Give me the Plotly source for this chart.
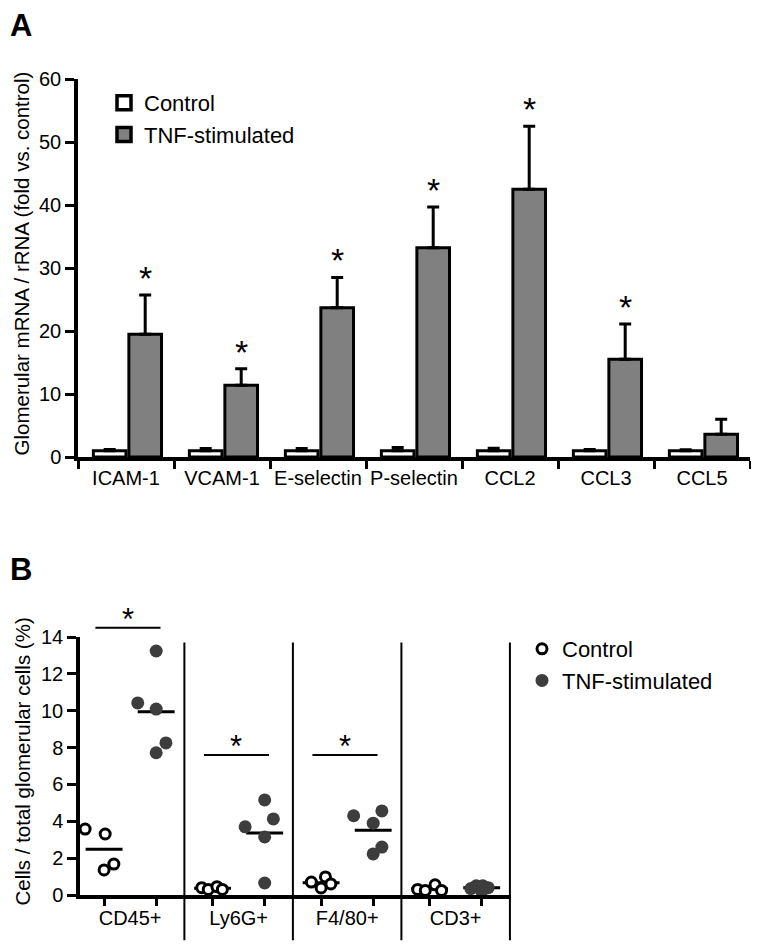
import numpy as np
import plotly.graph_objects as go

# ---------------- Panel A data ----------------
genes = ["ICAM-1", "VCAM-1", "E-selectin", "P-selectin", "CCL2", "CCL3", "CCL5"]
control_mean = [1.0, 1.0, 1.0, 1.0, 1.0, 1.0, 1.0]
control_err = [0.2, 0.35, 0.35, 0.5, 0.4, 0.2, 0.15]
tnf_mean = [19.5, 11.4, 23.7, 33.2, 42.5, 15.5, 3.6]
tnf_err = [6.2, 2.6, 4.8, 6.5, 10.0, 5.6, 2.4]
tnf_sig = [True, True, True, True, True, True, False]
yA_ticks = [0, 10, 20, 30, 40, 50, 60]

# ---------------- Panel B data ----------------
cells = ["CD45+", "Ly6G+", "F4/80+", "CD3+"]
ctrl_vals = [[3.58, 3.31, 1.68, 1.36],
             [0.40, 0.30, 0.45, 0.30],
             [0.70, 0.98, 0.60, 0.38],
             [0.30, 0.25, 0.55, 0.25]]
tnf_vals = [[13.24, 10.42, 10.09, 8.25, 7.72],
            [5.16, 4.13, 3.70, 3.15, 0.65],
            [4.30, 4.56, 3.90, 2.60, 2.23],
            [0.35, 0.50, 0.50, 0.40, 0.20]]
ctrl_jitter = [[-0.175, 0.01, 0.09, 0.0],
               [-0.10, -0.04, 0.04, 0.09],
               [-0.09, 0.04, 0.09, 0.0],
               [-0.11, -0.04, 0.05, 0.11]]
tnf_jitter = [[0.0, -0.17, 0.0, 0.09, 0.0],
              [0.0, 0.08, -0.18, 0.0, 0.0],
              [-0.18, 0.08, 0.0, 0.08, 0.0],
              [-0.10, -0.05, 0.01, 0.06, 0.0]]
sig_y = [14.5, 7.6, 7.6, None]
yB_ticks = [0, 2, 4, 6, 8, 10, 12, 14]

# ---------------- layout geometry ----------------
# page body has an 8px default margin: figure is 8px smaller and coordinates
# below are given in window pixels, converted with offset 8.
PAD = 8
W, H = 759 - PAD, 948 - PAD
FONT = "Liberation Sans, Arial, sans-serif"


def px(x):
    return (x - PAD) / W


def py(y):
    return (H - (y - PAD)) / H


xA_dom = [px(78), px(750)]
yA_dom = [py(457), py(79)]
xB_dom = [px(80), px(511)]
yB_dom = [py(895), py(637)]
xB_rng = [-0.462, 3.51]
yB_rng = [0, 14]
CTRL_OFF, TNF_OFF = -0.24, 0.24


def bx(v):
    return xB_dom[0] + (v - xB_rng[0]) / (xB_rng[1] - xB_rng[0]) * (xB_dom[1] - xB_dom[0])


def by(v):
    return yB_dom[0] + (v - yB_rng[0]) / (yB_rng[1] - yB_rng[0]) * (yB_dom[1] - yB_dom[0])


fig = go.Figure()

# ---------------- Panel A traces ----------------
fig.add_trace(go.Bar(
    x=genes, y=control_mean, width=0.34, offset=-0.34,
    marker=dict(color="white", line=dict(color="black", width=3)),
    error_y=dict(type="data", symmetric=False, array=control_err,
                 arrayminus=[0] * len(genes), color="black", thickness=3, width=6),
    showlegend=False, xaxis="x", yaxis="y"))
fig.add_trace(go.Bar(
    x=genes, y=tnf_mean, width=0.34, offset=0.03,
    marker=dict(color="#808080", line=dict(color="black", width=3)),
    error_y=dict(type="data", symmetric=False, array=tnf_err,
                 arrayminus=[0] * len(genes), color="black", thickness=3, width=6),
    showlegend=False, xaxis="x", yaxis="y"))
fig.add_trace(go.Scatter(
    x=[None], y=[None], mode="markers", name="Control",
    marker=dict(symbol="square", size=14, color="white", line=dict(color="black", width=3.5)),
    legend="legend", xaxis="x", yaxis="y"))
fig.add_trace(go.Scatter(
    x=[None], y=[None], mode="markers", name="TNF-stimulated",
    marker=dict(symbol="square", size=14, color="#808080", line=dict(color="black", width=3.5)),
    legend="legend", xaxis="x", yaxis="y"))

# ---------------- Panel B traces ----------------
mx, my = [], []
for i in range(len(cells)):
    for off, vals in ((CTRL_OFF, ctrl_vals[i]), (TNF_OFF, tnf_vals[i])):
        m = float(np.mean(vals))
        mx += [i + off - 0.17, i + off + 0.17, None]
        my += [m, m, None]
fig.add_trace(go.Scatter(x=mx, y=my, mode="lines", line=dict(color="black", width=3),
                         showlegend=False, xaxis="x2", yaxis="y2", hoverinfo="skip"))

cx, cy, tx, ty = [], [], [], []
for i in range(len(cells)):
    for v, j in zip(ctrl_vals[i], ctrl_jitter[i]):
        cx.append(i + CTRL_OFF + j)
        cy.append(v)
    for v, j in zip(tnf_vals[i], tnf_jitter[i]):
        tx.append(i + TNF_OFF + j)
        ty.append(v)
fig.add_trace(go.Scatter(
    x=cx, y=cy, mode="markers", name="Control", cliponaxis=False,
    marker=dict(size=10, color="white", line=dict(color="black", width=3)),
    legend="legend2", xaxis="x2", yaxis="y2"))
fig.add_trace(go.Scatter(
    x=tx, y=ty, mode="markers", name="TNF-stimulated", cliponaxis=False,
    marker=dict(size=13, color="#3d3d3d", line=dict(width=0)),
    legend="legend2", xaxis="x2", yaxis="y2"))

# ---------------- shapes / annotations ----------------
shapes = []
annotations = []
for i in range(len(cells)):
    shapes.append(dict(type="line", xref="paper", yref="paper",
                       x0=bx(i + 0.5), x1=bx(i + 0.5), y0=by(-2.45), y1=by(13.7),
                       line=dict(color="black", width=2)))
for i, s in enumerate(sig_y):
    if s is None:
        continue
    c = i - 0.02
    shapes.append(dict(type="line", xref="paper", yref="paper",
                       x0=bx(c - 0.3), x1=bx(c + 0.3), y0=by(s), y1=by(s),
                       line=dict(color="black", width=2)))
    annotations.append(dict(text="*", xref="paper", yref="paper", x=bx(c), y=by(s),
                            xanchor="center", yanchor="middle", yshift=8, showarrow=False,
                            font=dict(family=FONT, size=31, color="black")))
for i, (m, e, sg) in enumerate(zip(tnf_mean, tnf_err, tnf_sig)):
    if sg:
        annotations.append(dict(text="*", xref="x", yref="y", x=i + 0.2, y=m + e,
                                xanchor="center", yanchor="middle", yshift=17, showarrow=False,
                                font=dict(family=FONT, size=34, color="black")))
annotations.append(dict(text="<b>A</b>", xref="paper", yref="paper", x=px(8), y=py(6),
                        xanchor="left", yanchor="top", showarrow=False,
                        font=dict(family=FONT, size=31, color="black")))
annotations.append(dict(text="<b>B</b>", xref="paper", yref="paper", x=px(8), y=py(550),
                        xanchor="left", yanchor="top", showarrow=False,
                        font=dict(family=FONT, size=31, color="black")))
annotations.append(dict(text="Glomerular mRNA / rRNA (fold vs. control)", xref="paper", yref="paper",
                        x=px(9), y=py(264), textangle=-90, xanchor="left", yanchor="middle",
                        borderpad=0, showarrow=False, font=dict(family=FONT, size=20.5, color="black")))
annotations.append(dict(text="Cells / total glomerular cells (%)", xref="paper", yref="paper",
                        x=px(9), y=py(762), textangle=-90, xanchor="left", yanchor="middle",
                        borderpad=0, showarrow=False, font=dict(family=FONT, size=20.5, color="black")))

axis_common = dict(showgrid=False, zeroline=False, showline=True, linecolor="black",
                   tickcolor="black", tickfont=dict(family=FONT, size=20, color="black"),
                   automargin=False, fixedrange=True, tickangle=0)

fig.update_layout(
    width=W, height=H, margin=dict(l=0, r=0, t=0, b=0),
    paper_bgcolor="white", plot_bgcolor="white",
    font=dict(family=FONT, color="black"),
    barmode="overlay",
    xaxis=dict(axis_common, domain=xA_dom, anchor="y", type="category",
               range=[-0.5, len(genes) - 0.5], tickson="boundaries", ticks="outside",
               ticklen=8, tickwidth=3, linewidth=3.5),
    yaxis=dict(axis_common, domain=yA_dom, anchor="x", range=[0, 60],
               tickmode="array", tickvals=yA_ticks, ticks="outside",
               ticklen=9, tickwidth=3, linewidth=3.5),
    xaxis2=dict(axis_common, domain=xB_dom, anchor="y2", range=xB_rng,
                tickmode="array", tickvals=list(range(len(cells))), ticktext=cells,
                ticks="", ticklabelstandoff=2, linewidth=3.5,
                minor=dict(tickmode="array",
                           tickvals=[i + o for i in range(len(cells)) for o in (CTRL_OFF, TNF_OFF)],
                           ticks="outside", ticklen=7, tickwidth=3, tickcolor="black")),
    yaxis2=dict(axis_common, domain=yB_dom, anchor="x2", range=yB_rng,
                tickmode="array", tickvals=yB_ticks, ticks="outside",
                ticklen=9, tickwidth=3, linewidth=3.5),
    legend=dict(x=px(104), y=py(82), xanchor="left", yanchor="top",
                bgcolor="rgba(0,0,0,0)", font=dict(family=FONT, size=22, color="black"),
                tracegroupgap=0, itemsizing="trace"),
    legend2=dict(x=px(522), y=py(628), xanchor="left", yanchor="top",
                 bgcolor="rgba(0,0,0,0)", font=dict(family=FONT, size=22, color="black"),
                 tracegroupgap=0, itemsizing="trace"),
    shapes=shapes, annotations=annotations,
)

fig.write_html("out.html")
